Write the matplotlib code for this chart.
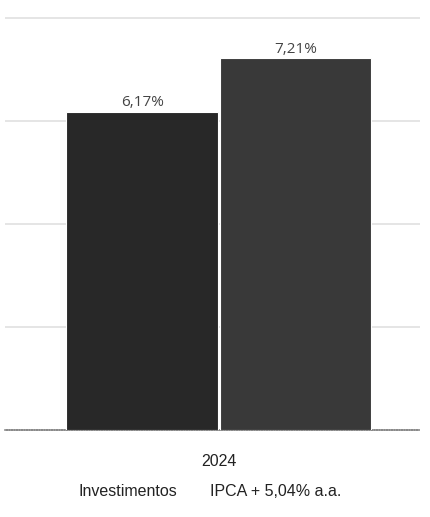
import matplotlib.pyplot as plt

categories = ["2024"]
series_names = ["Investimentos", "IPCA + 5,04% a.a."]
investimentos = [6.17]
ipca = [7.21]
value_labels = [["6,17%"], ["7,21%"]]

fig = plt.figure(figsize=(4.31, 5.17), dpi=100)
ax = fig.add_axes([0.012, 0.168, 0.963, 0.828])

colors = ["#282828", "#393939"]
width = 0.73
offsets = [-0.37, 0.37]
for i, vals in enumerate([investimentos, ipca]):
    xs = [k + offsets[i] for k in range(len(categories))]
    bars = ax.bar(xs, vals, width=width, color=colors[i], edgecolor="white",
                  linewidth=0.8, zorder=3, label=series_names[i])
    for b, lab in zip(bars, value_labels[i]):
        ax.text(b.get_x() + b.get_width() / 2, b.get_height() + 0.03, lab,
                ha="center", va="bottom", fontsize=11, color="#444444",
                family="Open Sans", zorder=4)

ax.set_xlim(-1.03, 0.97)
ax.set_ylim(0, 8.3)
ax.set_yticks([2, 4, 6, 8])
ax.yaxis.grid(True, color="#e0e0e0", linewidth=1.2, zorder=0)
ax.tick_params(left=False, labelleft=False, bottom=False)
ax.set_xticks(range(len(categories)))
ax.set_xticklabels(categories, fontsize=11.5, family="Liberation Sans", color="#222222")
ax.tick_params(axis="x", pad=14)
for s in ["top", "right", "left"]:
    ax.spines[s].set_visible(False)
ax.spines["bottom"].set_color("#8a8a8a")
ax.spines["bottom"].set_linewidth(1.2)
ax.spines["bottom"].set_linestyle((0, (1, 0.5)))

fig.text(0.297, 0.050, series_names[0], ha="center", va="center",
         fontsize=11.5, family="Liberation Sans", color="#222222")
fig.text(0.488, 0.050, series_names[1], ha="left", va="center",
         fontsize=11.5, family="Liberation Sans", color="#222222")

fig.savefig("out.png", dpi=100)
